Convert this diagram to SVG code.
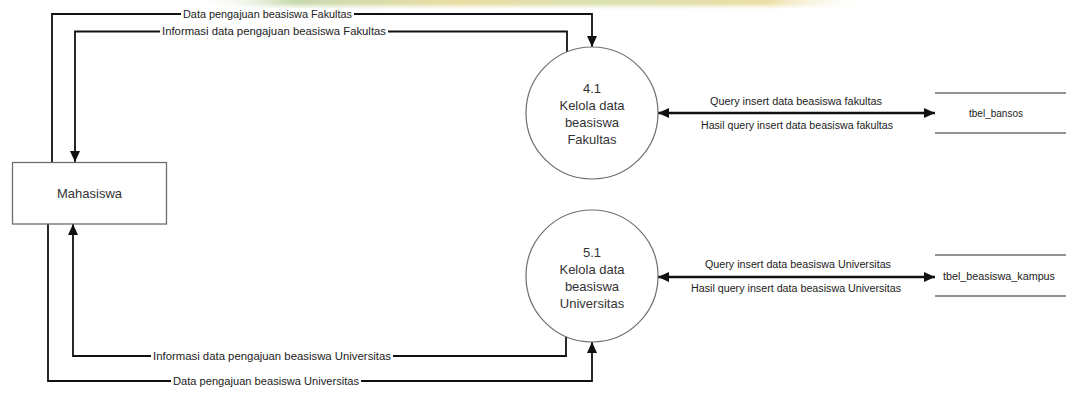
<svg xmlns="http://www.w3.org/2000/svg" width="1066" height="396" viewBox="0 0 1066 396">
  <style>
    .bg { fill: #ffffff; }
    .conn { fill: none; stroke: #111111; stroke-width: 1.8; }
    .dbl { fill: none; stroke: #111111; stroke-width: 2.4; }
    .proc { fill: #ffffff; stroke: #6e6e6e; stroke-width: 1.2; }
    .ent { fill: #ffffff; stroke: #6e6e6e; stroke-width: 1.3; }
    .store { stroke: #6e6e6e; stroke-width: 1.3; }
    .ptext { font-family: "Liberation Sans", "DejaVu Sans", sans-serif; font-size: 13px; fill: #333333; text-anchor: middle; }
    .lbl { font-family: "Liberation Sans", "DejaVu Sans", sans-serif; font-size: 10px; fill: #222222; }
    .lblbg { fill: #ffffff; }
  </style>
  <defs>
    <marker id="arr" markerUnits="userSpaceOnUse" markerWidth="12" markerHeight="10" refX="11" refY="5" orient="auto-start-reverse">
      <path d="M0,0 L11,5 L0,10 z" fill="#111111"/>
    </marker>
    <linearGradient id="wm" x1="0" y1="0" x2="1" y2="0">
      <stop offset="0" stop-color="#ffffff" stop-opacity="0"/>
      <stop offset="0.15" stop-color="#b9cf9a"/>
      <stop offset="0.4" stop-color="#e4d58a"/>
      <stop offset="0.6" stop-color="#cfd79a"/>
      <stop offset="0.85" stop-color="#e6d68c"/>
      <stop offset="1" stop-color="#ffffff" stop-opacity="0"/>
    </linearGradient>
    <filter id="blur" x="-10%" y="-100%" width="120%" height="300%">
      <feGaussianBlur stdDeviation="2"/>
    </filter>
  </defs>

  <rect class="bg" x="0" y="0" width="1066" height="396"/>
  <rect x="190" y="-4" width="680" height="10" fill="url(#wm)" opacity="0.8" filter="url(#blur)"/>

  <g id="connectors">
    <!-- Data pengajuan beasiswa Fakultas: Mahasiswa -> 4.1 -->
    <path class="conn" d="M52,162 L52,14 L592,14 L592,47" marker-end="url(#arr)"/>
    <!-- Informasi data pengajuan beasiswa Fakultas: 4.1 -> Mahasiswa -->
    <path class="conn" d="M567,52 L567,31.5 L75,31.5 L75,162" marker-end="url(#arr)"/>
    <!-- Informasi data pengajuan beasiswa Universitas: 5.1 -> Mahasiswa -->
    <path class="conn" d="M566,336 L566,356 L73,356 L73,224" marker-end="url(#arr)"/>
    <!-- Data pengajuan beasiswa Universitas: Mahasiswa -> 5.1 -->
    <path class="conn" d="M48,224 L48,381 L592,381 L592,342" marker-end="url(#arr)"/>
    <!-- 4.1 <-> tbel_bansos -->
    <path class="dbl" d="M658,113 L935,113" marker-start="url(#arr)" marker-end="url(#arr)"/>
    <!-- 5.1 <-> tbel_beasiswa_kampus -->
    <path class="dbl" d="M658,277 L935,277" marker-start="url(#arr)" marker-end="url(#arr)"/>

    <g id="labels">
      <rect class="lblbg" x="181" y="8" width="173" height="12"/>
      <text class="lbl" x="183" y="17.5" textLength="169" lengthAdjust="spacingAndGlyphs">Data pengajuan beasiswa Fakultas</text>
      <rect class="lblbg" x="160" y="25.5" width="228" height="12"/>
      <text class="lbl" x="162" y="35" textLength="224" lengthAdjust="spacingAndGlyphs">Informasi data pengajuan beasiswa Fakultas</text>
      <rect class="lblbg" x="151" y="350" width="242" height="12"/>
      <text class="lbl" x="153" y="359.5" textLength="238" lengthAdjust="spacingAndGlyphs">Informasi data pengajuan beasiswa Universitas</text>
      <rect class="lblbg" x="171" y="375" width="190" height="12"/>
      <text class="lbl" x="173" y="384.5" textLength="186" lengthAdjust="spacingAndGlyphs">Data pengajuan beasiswa Universitas</text>

      <text class="lbl" x="710" y="104.5" textLength="172" lengthAdjust="spacingAndGlyphs">Query insert data beasiswa fakultas</text>
      <text class="lbl" x="701" y="129" textLength="192" lengthAdjust="spacingAndGlyphs">Hasil query insert data beasiswa fakultas</text>
      <text class="lbl" x="705" y="267.5" textLength="186" lengthAdjust="spacingAndGlyphs">Query insert data beasiswa Universitas</text>
      <text class="lbl" x="691" y="292" textLength="210" lengthAdjust="spacingAndGlyphs">Hasil query insert data beasiswa  Universitas</text>
    </g>
  </g>

  <g id="mahasiswa">
    <rect class="ent" x="12.5" y="162.5" width="154" height="61.5"/>
    <text class="ptext" x="89.5" y="197.5">Mahasiswa</text>
  </g>

  <g id="proc-4-1">
    <circle class="proc" cx="592" cy="113" r="66"/>
    <text class="ptext" x="592" y="92.5">4.1</text>
    <text class="ptext" x="592" y="109.5">Kelola data</text>
    <text class="ptext" x="592" y="126.5">beasiswa</text>
    <text class="ptext" x="592" y="143.5">Fakultas</text>
  </g>

  <g id="proc-5-1">
    <circle class="proc" cx="592" cy="276" r="66"/>
    <text class="ptext" x="592" y="256.5">5.1</text>
    <text class="ptext" x="592" y="273.5">Kelola data</text>
    <text class="ptext" x="592" y="290.5">beasiswa</text>
    <text class="ptext" x="592" y="307.5">Universitas</text>
  </g>

  <g id="store-tbel-bansos">
    <line class="store" x1="935" y1="93" x2="1066" y2="93"/>
    <line class="store" x1="935" y1="133" x2="1066" y2="133"/>
    <text class="lbl" x="996" y="116.5" text-anchor="middle">tbel_bansos</text>
  </g>

  <g id="store-tbel-beasiswa-kampus">
    <line class="store" x1="935" y1="255" x2="1066" y2="255"/>
    <line class="store" x1="935" y1="296" x2="1066" y2="296"/>
    <text class="lbl" x="999" y="279.5" text-anchor="middle" textLength="112" lengthAdjust="spacingAndGlyphs">tbel_beasiswa_kampus</text>
  </g>
</svg>
